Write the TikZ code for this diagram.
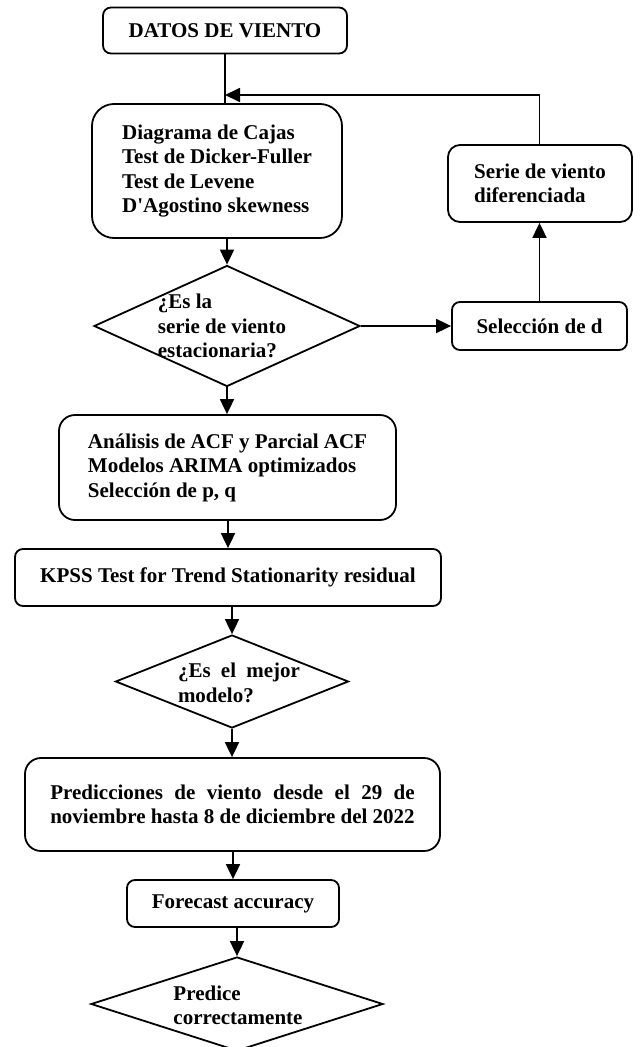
\documentclass[tikz,border=0pt]{standalone}
\usepackage{fontspec}
\setmainfont{Liberation Serif}
\usetikzlibrary{shapes.geometric,arrows.meta}
\newlength\predw
\begin{document}
\begin{tikzpicture}[x=1bp,y=-1bp,
  every node/.style={font=\bfseries\fontsize{21bp}{24.5bp}\selectfont},
  rbox/.style={draw,line width=1.8bp,rounded corners=#1,inner sep=0pt,align=left},
  rbox/.default=8bp,
  dia/.style={draw,diamond,line width=1.8bp,inner sep=0pt},
  txt/.style={align=left,inner sep=0pt},
  arr/.style={line width=1.8bp,-{Triangle[length=15bp,width=14bp]}},
  ln/.style={line width=1.8bp}]
\clip (0,0) rectangle (640,1047);
\fill[white] (0,0) rectangle (640,1047);

% boxes
\node[rbox, minimum width=244bp, minimum height=46bp] (datos) at (225,30.5) {DATOS DE VIENTO};
\node[rbox=22bp, minimum width=250bp, minimum height=134bp] (cajas) at (217,171)
  {Diagrama de Cajas\\Test de Dicker-Fuller\\Test de Levene\\D\textquotesingle Agostino skewness};
\node[dia, minimum width=266bp, minimum height=121bp] (d1) at (227,326) {};
\node[txt] (d1t) at (222,326) {¿Es la\\serie de viento\\estacionaria?};
\node[rbox, minimum width=175bp, minimum height=48bp] (sel) at (539.5,326) {Selección de d};
\node[rbox=12bp, minimum width=184bp, minimum height=77bp] (serie) at (540,183.5)
  {Serie de viento\\diferenciada};
\node[rbox=16bp, minimum width=337bp, minimum height=105bp] (acf) at (227.5,467.5)
  {Análisis de ACF y Parcial ACF\\Modelos ARIMA optimizados\\Selección de p, q};
\node[rbox, minimum width=426bp, minimum height=57bp] (kpss) at (228,577.5)
  {KPSS Test for Trend Stationarity residual};
\node[dia, minimum width=233bp, minimum height=93bp] (d2) at (232,681.5) {};
\node[txt] (d2t) at (239,683) {\makebox[122bp][s]{¿Es el mejor}\\modelo?};
\node[rbox=16bp, minimum width=415bp, minimum height=93bp] (pred) at (232.5,804.5)
  {\settowidth{\predw}{noviembre hasta 8 de diciembre del 2022}\makebox[\predw][s]{Predicciones de viento desde el 29 de}\\noviembre hasta 8 de diciembre del 2022};
\node[rbox, minimum width=212bp, minimum height=47bp] (fore) at (233,903.5) {Forecast accuracy};
\node[dia, minimum width=292bp, minimum height=94bp] (d3) at (237,1004) {};
\node[txt] (d3t) at (238,1005.5) {Predice\\correctamente};

% connectors
\coordinate (j) at (datos.south |- 0,95);
\draw[ln] (datos.south) -- (datos.south |- cajas.north);
\draw[arr] (serie.north -| sel.north) -- (sel.north |- j) -- (j);
\draw[arr] (d1.north |- cajas.south) -- (d1.north);
\draw[arr] (d1.east) -- (sel.west |- d1.east);
\draw[arr] (sel.north) -- (sel.north |- serie.south);
\draw[arr] (d1.south) -- (d1.south |- acf.north);
\draw[arr] (kpss.north |- acf.south) -- (kpss.north);
\draw[arr] (d2.north |- kpss.south) -- (d2.north);
\draw[arr] (d2.south) -- (d2.south |- pred.north);
\draw[arr] (fore.north |- pred.south) -- (fore.north);
\draw[arr] (d3.north |- fore.south) -- (d3.north);
\end{tikzpicture}
\end{document}
